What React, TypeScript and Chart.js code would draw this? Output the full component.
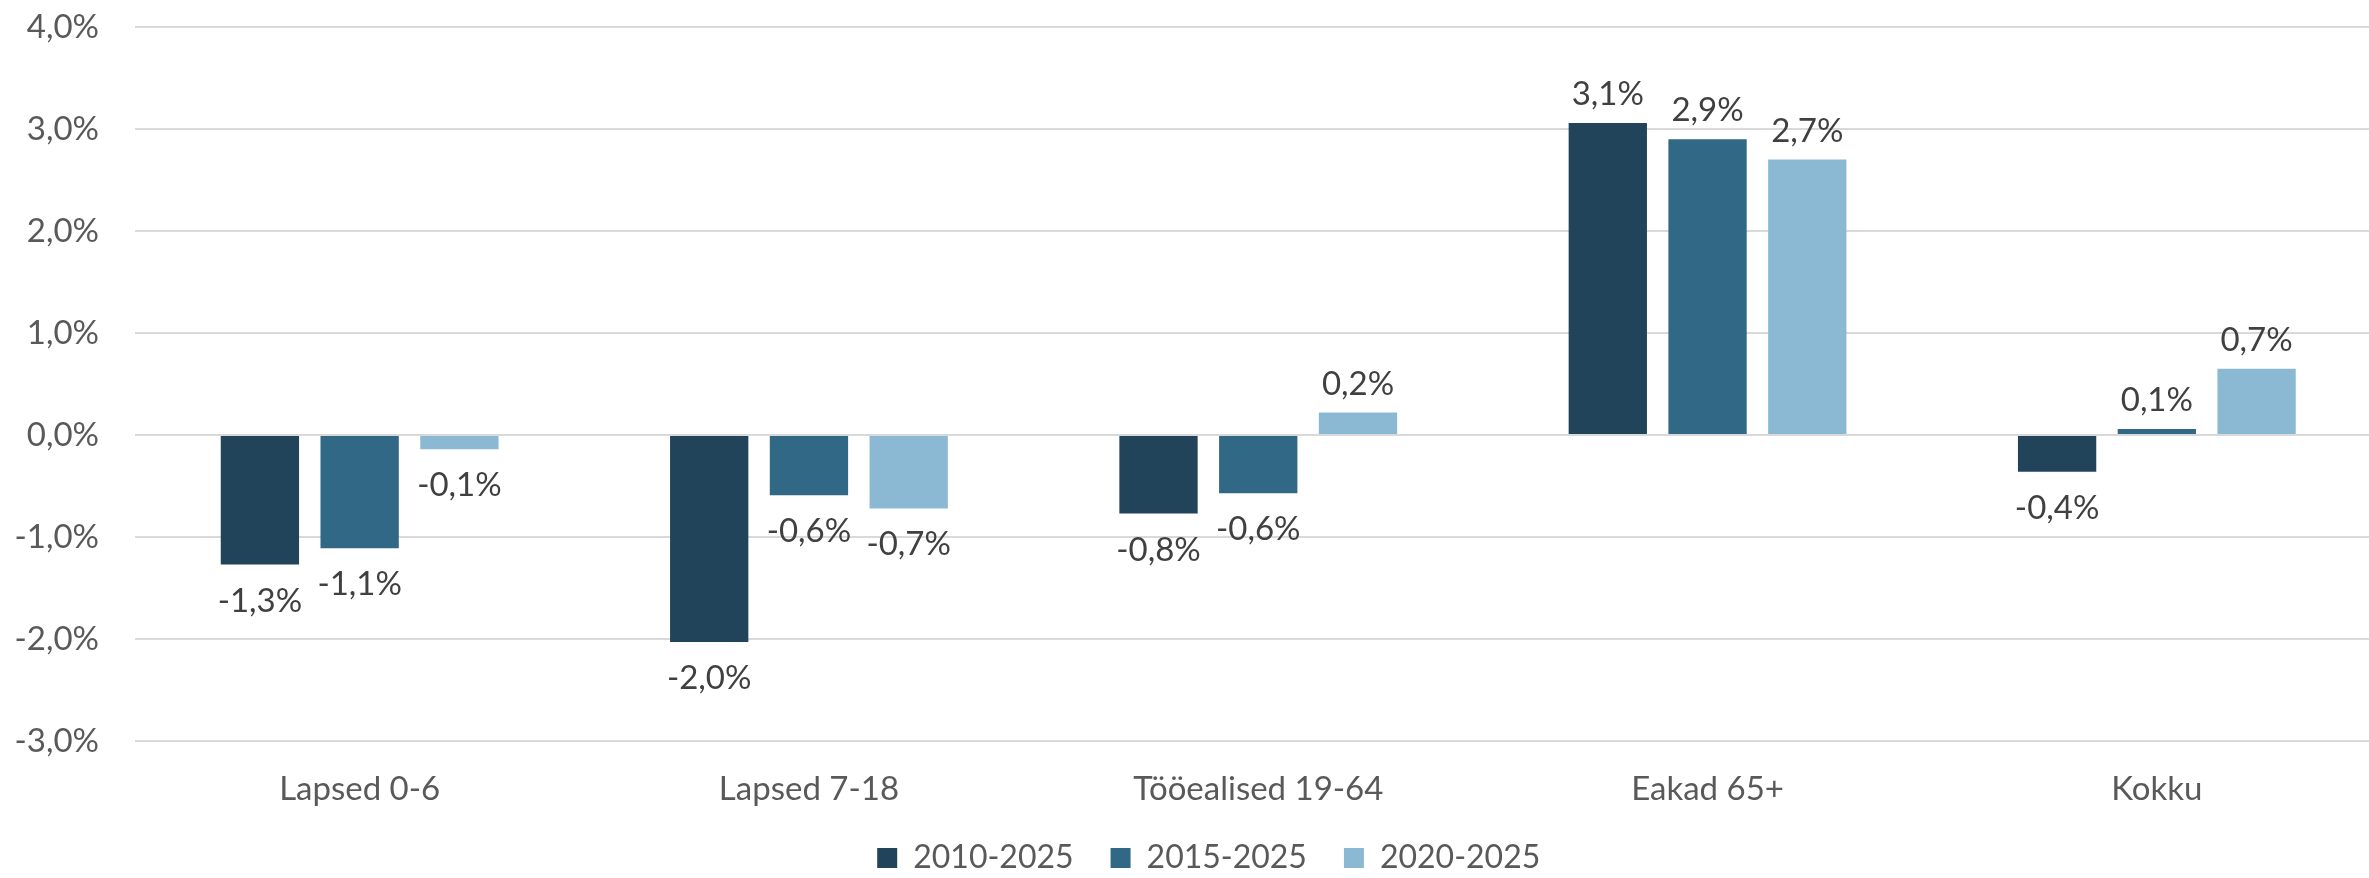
import React, { useEffect, useRef } from "react";
import { Chart, registerables } from "chart.js";

Chart.register(...registerables);

const categories = ["Lapsed 0-6", "Lapsed 7-18", "Tööealised 19-64", "Eakad 65+", "Kokku"];
const seriesLabels = ["2010-2025", "2015-2025", "2020-2025"];
const values2010 = [-1.27, -2.03, -0.77, 3.06, -0.36];
const values2015 = [-1.11, -0.59, -0.57, 2.9, 0.06];
const values2020 = [-0.14, -0.72, 0.22, 2.7, 0.65];
const seriesColors = ["#21445A", "#306886", "#8BB9D4"];
const yMin = -3;
const yMax = 4;
const yStep = 1;

const FONT = "Lato";
const fmt = (v: number) => v.toFixed(1).replace(".", ",") + "%";

const dataLabelPlugin = {
  id: "dataLabels",
  afterDatasetsDraw(chart: any) {
    const ctx = chart.ctx;
    ctx.save();
    ctx.font = `33px ${FONT}`;
    ctx.fillStyle = "#404040";
    ctx.textAlign = "center";
    ctx.textBaseline = "alphabetic";
    chart.data.datasets.forEach((ds: any, i: number) => {
      const meta = chart.getDatasetMeta(i);
      meta.data.forEach((bar: any, j: number) => {
        const v = ds.data[j] as number;
        const y = v >= 0 ? bar.y - 18 : bar.y + 47;
        ctx.fillText(fmt(v), bar.x, y);
      });
    });
    ctx.restore();
  },
};

const legendShiftPlugin = {
  id: "legendShift",
  afterLayout(chart: any) {
    const lg = chart.legend;
    if (lg) {
      lg.left += 36;
      lg.top -= 3;
      lg.bottom -= 3;
    }
  },
};

export default function App() {
  const ref = useRef<HTMLCanvasElement>(null);
  useEffect(() => {
    const allValues = [values2010, values2015, values2020];
    const chart = new Chart(ref.current!, {
      type: "bar",
      data: {
        labels: categories,
        datasets: allValues.map((vals, i) => ({
          label: seriesLabels[i],
          data: vals,
          backgroundColor: seriesColors[i],
          borderWidth: 0,
          barPercentage: 0.785,
          categoryPercentage: 0.666,
        })),
      },
      options: {
        animation: false,
        responsive: true,
        maintainAspectRatio: false,
        layout: { padding: { left: 0, right: 18.5, top: 27, bottom: -9 } },
        plugins: {
          legend: {
            position: "bottom",
            labels: {
              boxWidth: 20,
              boxHeight: 20,
              padding: 37,
              color: "#595959",
              font: { family: FONT, size: 32 },
            },
          },
          tooltip: { enabled: false },
        },
        scales: {
          x: {
            grid: { display: false, drawTicks: false },
            border: { display: false },
            ticks: { color: "#595959", font: { family: FONT, size: 33 }, padding: 29 },
            afterFit: (s: any) => {
              s.height = 67;
            },
          },
          y: {
            min: yMin,
            max: yMax,
            ticks: {
              stepSize: yStep,
              color: "#595959",
              font: { family: FONT, size: 33 },
              padding: 36,
              callback: (v: any) => fmt(Number(v)),
            },
            grid: { color: "#D9D9D9", lineWidth: 2, drawTicks: false },
            border: { display: false },
            afterFit: (s: any) => {
              s.width = 135;
              s.paddingTop = 0;
              s.paddingBottom = 0;
            },
          },
        },
      },
      plugins: [dataLabelPlugin, legendShiftPlugin],
    });
    return () => chart.destroy();
  }, []);
  return (
    <div
      style={{
        position: "fixed",
        left: 0,
        top: 0,
        width: 2369,
        height: 878,
        overflow: "hidden",
        background: "#fff",
      }}
    >
      <div style={{ position: "relative", width: 2400, height: 878 }}>
        <canvas ref={ref} />
      </div>
    </div>
  );
}
